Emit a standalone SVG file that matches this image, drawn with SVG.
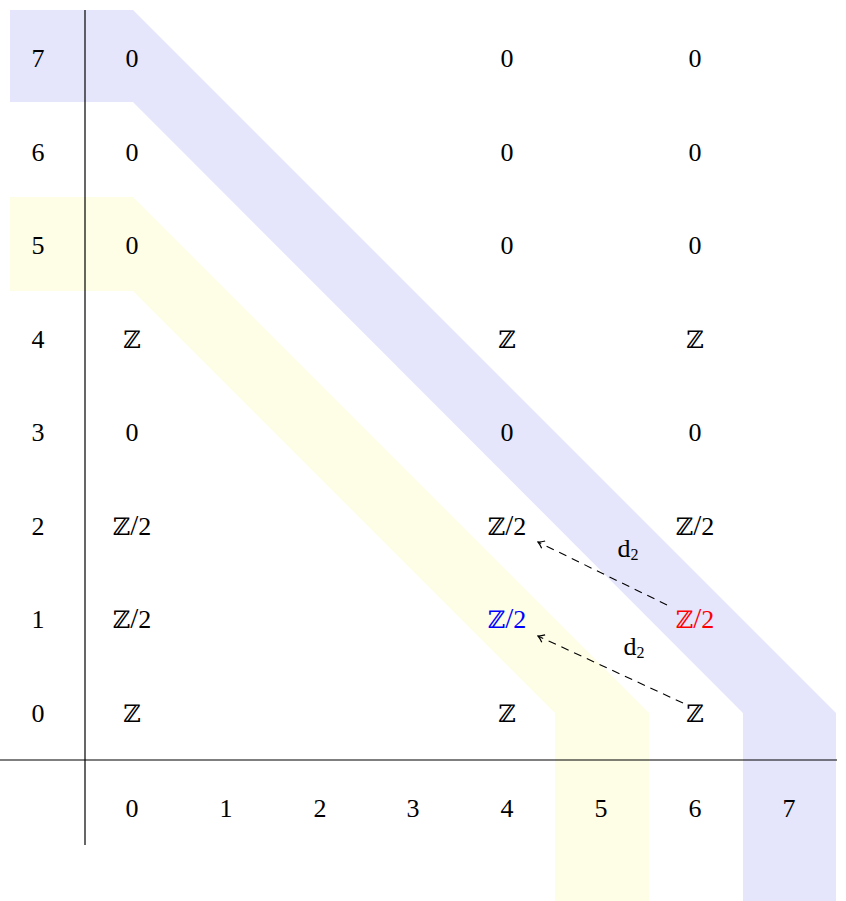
<svg xmlns="http://www.w3.org/2000/svg" width="846" height="901" viewBox="0 0 846 901">
<defs>
<style>
text{font-family:"Liberation Serif","DejaVu Serif",serif;font-size:26px;fill:#000;text-anchor:middle}
.z{font-family:"DejaVu Serif","DejaVu Sans",serif;font-size:24px}
.sl{font-size:29px}
.ax{stroke:#000;stroke-width:1.2;fill:none}
.dash{stroke:#000;stroke-width:1.1;stroke-dasharray:8,6;fill:none}
.sub{font-size:16px}
</style>
<marker id="hook" viewBox="0 0 10 10" refX="9" refY="5" markerWidth="10" markerHeight="10" markerUnits="userSpaceOnUse" orient="auto">
<path d="M3,1 Q6.5,4 9,5 Q6.5,6 3,9" fill="none" stroke="#000" stroke-width="1.2"/>
</marker>
</defs>
<rect width="846" height="901" fill="#fff"/>
<g id="bands">
<polygon id="blue-band" points="10,10 133,10 836,713 836,901 743,901 743,713 133,102 10,102" fill="#e5e5fc"/>
<polygon id="yellow-band" points="10,197 133,197 649,713 649,901 555,901 555,713 133,291 10,291" fill="#fefde6"/>
</g>
<g id="axes">
<line class="ax" x1="85" y1="10" x2="85" y2="845"/>
<line class="ax" x1="0" y1="760" x2="837" y2="760"/>
</g>
<g id="row-labels">
<text x="38" y="67">7</text>
<text x="38" y="161">6</text>
<text x="38" y="254">5</text>
<text x="38" y="348">4</text>
<text x="38" y="441">3</text>
<text x="38" y="535">2</text>
<text x="38" y="628">1</text>
<text x="38" y="722">0</text>
</g>
<g id="col-labels">
<text x="132" y="817">0</text>
<text x="226" y="817">1</text>
<text x="320" y="817">2</text>
<text x="413" y="817">3</text>
<text x="507" y="817">4</text>
<text x="601" y="817">5</text>
<text x="695" y="817">6</text>
<text x="789" y="817">7</text>
</g>
<g id="col0">
<text x="132" y="67">0</text>
<text x="132" y="161">0</text>
<text x="132" y="254">0</text>
<text x="132" y="348" class="z">ℤ</text>
<text x="132" y="441">0</text>
<text x="132" y="535"><tspan class="z">ℤ</tspan><tspan class="sl">/</tspan>2</text>
<text x="132" y="628"><tspan class="z">ℤ</tspan><tspan class="sl">/</tspan>2</text>
<text x="132" y="722" class="z">ℤ</text>
</g>
<g id="col4">
<text x="507" y="67">0</text>
<text x="507" y="161">0</text>
<text x="507" y="254">0</text>
<text x="507" y="348" class="z">ℤ</text>
<text x="507" y="441">0</text>
<text x="507" y="535"><tspan class="z">ℤ</tspan><tspan class="sl">/</tspan>2</text>
<text x="507" y="628" style="fill:#0000ff"><tspan class="z">ℤ</tspan><tspan class="sl">/</tspan>2</text>
<text x="507" y="722" class="z">ℤ</text>
</g>
<g id="col6">
<text x="695" y="67">0</text>
<text x="695" y="161">0</text>
<text x="695" y="254">0</text>
<text x="695" y="348" class="z">ℤ</text>
<text x="695" y="441">0</text>
<text x="695" y="535"><tspan class="z">ℤ</tspan><tspan class="sl">/</tspan>2</text>
<text x="695" y="628" style="fill:#ff0000"><tspan class="z">ℤ</tspan><tspan class="sl">/</tspan>2</text>
<text x="695" y="722" class="z">ℤ</text>
</g>
<g id="connectors">
<line class="dash" x1="683" y1="703" x2="538" y2="636" marker-end="url(#hook)"/>
<line class="dash" x1="667" y1="605" x2="538" y2="542" marker-end="url(#hook)"/>
<text x="628" y="557">d<tspan class="sub" dy="3">2</tspan></text>
<text x="634" y="655">d<tspan class="sub" dy="3">2</tspan></text>
</g>
</svg>
